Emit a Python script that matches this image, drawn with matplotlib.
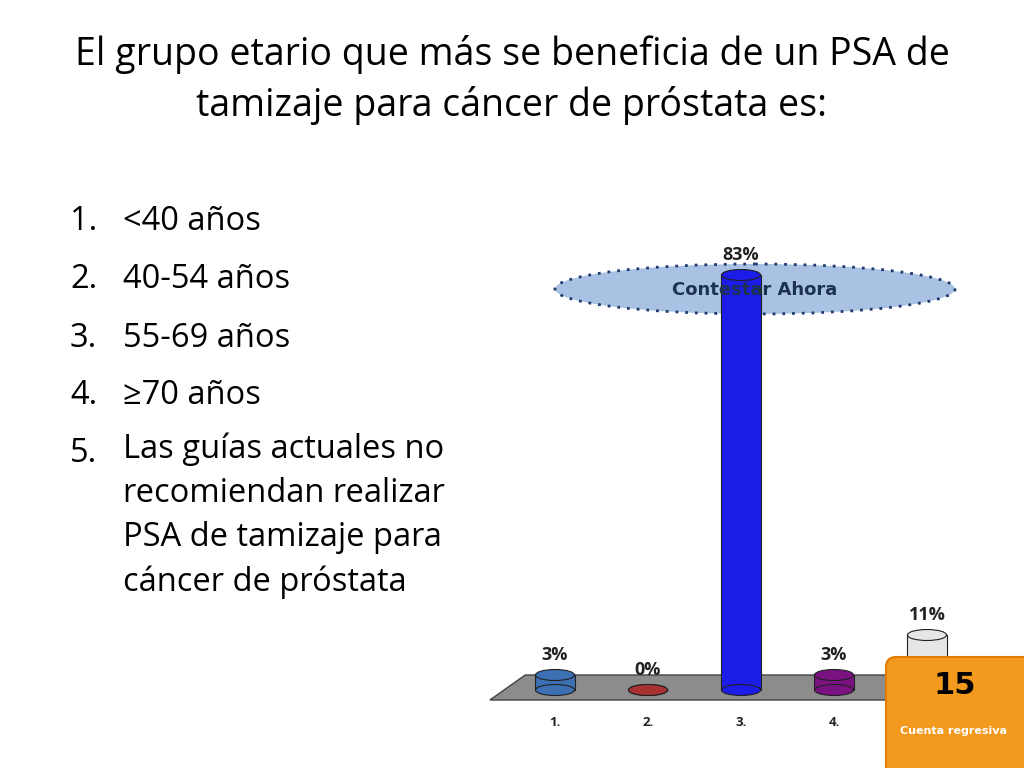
import matplotlib
matplotlib.use("Agg")
import matplotlib.pyplot as plt
from matplotlib.patches import Ellipse, Polygon, Rectangle, FancyBboxPatch

categories = ["1.", "2.", "3.", "4.", "5."]
values = [3, 0, 83, 3, 11]
labels = ["3%", "0%", "83%", "3%", "11%"]
colors = ["#3d6fb3", "#a83232", "#1c1ce8", "#7a1282", "#e6e6e6"]
options = ["<40 años", "40-54 años", "55-69 años", "≥70 años",
           "Las guías actuales no\nrecomiendan realizar\nPSA de tamizaje para\ncáncer de próstata"]
title = "El grupo etario que más se beneficia de un PSA de\ntamizaje para cáncer de próstata es:"

font = "Open Sans"
fig = plt.figure(figsize=(10.24, 7.68), dpi=100)
fig.patch.set_facecolor("white")

fig.text(0.5, 1 - 80/768, title, ha="center", va="center", fontsize=27,
         family=font, linespacing=1.4)

ys = [222, 280, 338, 396, 453]
for i, (y, t) in enumerate(zip(ys, options)):
    fig.text(70/1024, 1 - y/768, f"{i+1}.", ha="left", va="center", fontsize=23.5, family=font)
    if "\n" in t:
        fig.text(123/1024, 1 - 432/768, t, ha="left", va="top", fontsize=23.5,
                 family=font, linespacing=1.45)
    else:
        fig.text(123/1024, 1 - y/768, t, ha="left", va="center", fontsize=23.5, family=font)

under = fig.add_axes([0, 0, 1, 1], zorder=0)
under.set_xlim(0, 1024); under.set_ylim(768, 0); under.axis("off")
under.add_patch(Ellipse((755, 289), 400, 50, facecolor="#a9c1e2", edgecolor="#1f3a70",
                        lw=2, ls=(0, (1, 2.5))))

ax = fig.add_axes([508.5/1024, 48/768, 465/1024, 480/768], zorder=1)
ax.set_xlim(0.5, 5.5)
ax.set_ylim(-6, 90)
ax.axis("off")
ax.patch.set_alpha(0)

floor = Polygon([(0.3, -2), (4.95, -2), (5.3, 3), (0.68, 3)], closed=True,
                facecolor="#8c8c8c", edgecolor="#444444", lw=1, zorder=1, clip_on=False)
ax.add_patch(floor)

w = 0.42
eh = 2.2
for i, (v, c, lab) in enumerate(zip(values, colors, labels)):
    x = i + 1
    ec = "#202020"
    ax.add_patch(Rectangle((x - w/2, 0), w, v, facecolor=c, edgecolor=ec, lw=0.8, zorder=2))
    ax.add_patch(Ellipse((x, 0), w, eh, facecolor=c, edgecolor=ec, lw=0.8, zorder=2))
    ax.add_patch(Ellipse((x, v), w, eh, facecolor=c, edgecolor=ec, lw=0.8, zorder=3))
    ax.text(x, v + 2.2, lab, ha="center", va="bottom", fontsize=13, fontweight="bold",
            family=font, color="#222222")
    if i < 4:
        ax.text(x, -6.4, categories[i], ha="center", va="center", fontsize=9.5,
                fontweight="bold", family=font, color="#222222", clip_on=False)

ov = fig.add_axes([0, 0, 1, 1], zorder=2)
ov.set_xlim(0, 1024); ov.set_ylim(768, 0); ov.axis("off")
ov.patch.set_alpha(0)
ov.text(755, 290, "Contestar Ahora", ha="center", va="center", fontsize=13,
        fontweight="bold", color="#1b3350", family="DejaVu Sans")
ov.add_patch(FancyBboxPatch((886, 657), 150, 120, boxstyle="round,pad=0,rounding_size=10",
                            facecolor="#f39a1e", edgecolor="#e07a00", lw=1.5))
ov.text(955, 686, "15", ha="center", va="center", fontsize=22, fontweight="bold",
        color="black", family="DejaVu Sans")
ov.text(953, 731, "Cuenta regresiva", ha="center", va="center", fontsize=8,
        fontweight="bold", color="white", family="DejaVu Sans")

fig.savefig("out.png", dpi=100)
